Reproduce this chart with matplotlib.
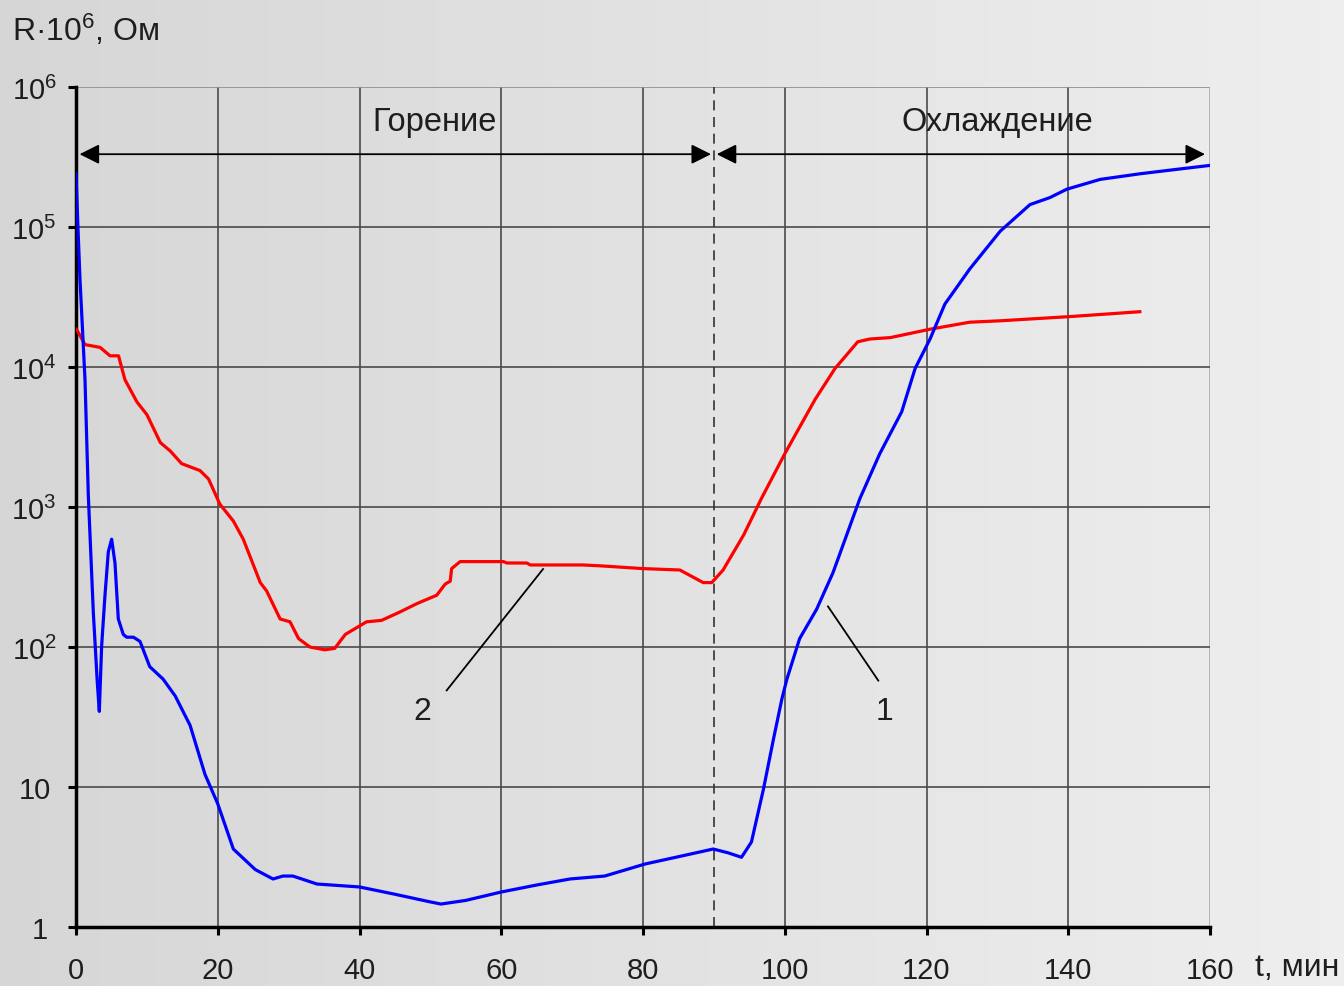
import numpy as np
import matplotlib
matplotlib.use('Agg')
import matplotlib.pyplot as plt
import matplotlib.transforms as mtransforms
from matplotlib.ticker import FixedLocator, NullLocator

plt.rcParams['font.family'] = ['Liberation Sans', 'DejaVu Sans']
plt.rcParams['mathtext.fontset'] = 'custom'
plt.rcParams['mathtext.rm'] = 'Liberation Sans'
plt.rcParams['mathtext.it'] = 'Liberation Sans:italic'

# curve 1 (blue): time, min / log10(R)
t1 = [0, 0.28, 0.56, 1.27, 1.74, 2.44, 3.0, 3.29, 3.62, 4.09, 4.56, 5.03, 5.5, 5.97,
      6.67, 7.15, 8.1, 9.03, 10.4, 12.3, 14.0, 16.1, 18.2, 20.0, 22.2, 25.3, 27.8,
      29.2, 30.6, 34.0, 40.0, 44.8, 50.0, 51.5, 55.0, 60.0, 65.0, 69.7, 74.6, 80.3,
      86.6, 89.9, 92.0, 93.9, 95.3, 97.0, 98.4, 99.6, 100.3, 102.1, 104.5, 106.8,
      110.6, 113.4, 116.5, 118.4, 120.5, 122.6, 126.1, 130.4, 134.6, 137.4, 139.8,
      144.5, 150.1, 155.0, 160.0]
lg1 = [5.38, 4.99, 4.63, 3.91, 3.08, 2.25, 1.75, 1.54, 2.01, 2.37, 2.68, 2.77, 2.6, 2.2,
       2.09, 2.07, 2.07, 2.04, 1.86, 1.77, 1.65, 1.44, 1.09, 0.88, 0.557, 0.41, 0.343,
       0.364, 0.364, 0.307, 0.286, 0.236, 0.179, 0.164, 0.19, 0.25, 0.30, 0.343, 0.364, 0.45,
       0.52, 0.557, 0.53, 0.498, 0.607, 0.986, 1.34, 1.63, 1.77, 2.06, 2.27, 2.53,
       3.06, 3.38, 3.68, 3.99, 4.2, 4.45, 4.7, 4.97, 5.16, 5.21, 5.27,
       5.34, 5.38, 5.41, 5.44]

# curve 2 (red)
t2 = [0, 0.18, 1.27, 3.4, 4.8, 6.0, 6.9, 8.6, 10.0, 11.9, 13.3, 14.9, 17.5, 18.7, 20.3,
      22.2, 23.6, 26.0, 26.9, 28.8, 30.2, 31.4, 33.0, 35.1, 36.5, 38.0, 41.0, 43.1, 45.7,
      48.1, 50.9, 52.1, 52.8, 53.0, 54.2, 60.3, 60.8, 63.6, 64.1, 71.5, 73.9, 80.0, 85.2,
      88.5, 89.7, 91.3, 94.2, 96.7, 100.0, 104.3, 107.1, 110.3, 112.0, 114.9, 120.5,
      126.1, 130.4, 140.2, 145.9, 150.1]
lg2 = [4.27, 4.26, 4.16, 4.14, 4.08, 4.08, 3.91, 3.75, 3.66, 3.46, 3.4, 3.31, 3.26, 3.2, 3.02,
       2.9, 2.77, 2.46, 2.4, 2.2, 2.18, 2.06, 2.0, 1.98, 1.99, 2.09, 2.18, 2.19, 2.25,
       2.31, 2.37, 2.45, 2.47, 2.56, 2.61, 2.61, 2.6, 2.6, 2.586, 2.586, 2.58, 2.56, 2.55,
       2.46, 2.46, 2.55, 2.80, 3.06, 3.38, 3.77, 3.99, 4.18, 4.2, 4.21, 4.27,
       4.32, 4.33, 4.36, 4.38, 4.395]

x_ticks = [0, 20, 40, 60, 80, 100, 120, 140, 160]
y_ticks = [1, 10, 1e2, 1e3, 1e4, 1e5, 1e6]
y_labels = ['1', '10', r'$\mathregular{10^2}$', r'$\mathregular{10^3}$',
            r'$\mathregular{10^4}$', r'$\mathregular{10^5}$', r'$\mathregular{10^6}$']

fig = plt.figure(figsize=(13.44, 9.87), dpi=100)

# brushed-metal like background
bg = fig.add_axes([0, 0, 1, 1], zorder=-10)
grad = np.linspace(0.84, 0.935, 256)[None, :]
bg.imshow(np.dstack([grad, grad, grad]), aspect='auto', extent=[0, 1, 0, 1])
bg.axis('off')

ax = fig.add_axes([76 / 1344, 1 - 928 / 987, (1210 - 76) / 1344, (928 - 88) / 987])
ax.patch.set_alpha(0)
ax.set_yscale('log')
ax.set_xlim(0, 160)
ax.set_ylim(1, 1e6)

ax.xaxis.set_major_locator(FixedLocator(x_ticks))
ax.yaxis.set_major_locator(FixedLocator(y_ticks))
ax.yaxis.set_minor_locator(NullLocator())
ax.set_yticklabels(y_labels)
ax.tick_params(axis='both', direction='out', length=6, width=2.2, labelsize=21,
               labelcolor='#1e1e1e')
ax.tick_params(axis='x', pad=15)
ax.tick_params(axis='y', pad=8)

# plain labels "1" and "10" sit a little further left
shifts = {'1': -9, '10': -6}
for lab in ax.get_yticklabels():
    dx = shifts.get(lab.get_text(), 0)
    if dx:
        lab.set_transform(lab.get_transform() +
                          mtransforms.ScaledTranslation(dx / 100, 0, fig.dpi_scale_trans))

for s in ['top', 'right']:
    ax.spines[s].set_visible(False)
for s in ['left', 'bottom']:
    ax.spines[s].set_linewidth(2.5)

ax.grid(True, color='#4a4a4a', lw=1.2)
ax.xaxis.get_gridlines()[-1].set_color('#a8a8a8')
ax.yaxis.get_gridlines()[-1].set_color('#8c8c8c')

ax.axvline(90, color='#333333', lw=1.2, ls=(0, (6, 4)))

ax.plot(t2, 10 ** np.array(lg2), color='#ff0000', lw=2.3, zorder=5,
        solid_joinstyle='round')
ax.plot(t1, 10 ** np.array(lg1), color='#0000ff', lw=2.3, zorder=6,
        solid_joinstyle='round')

# phase arrows
ya = 10 ** 5.52
arr = dict(arrowstyle='<|-|>,head_length=0.6,head_width=0.3', color='black', lw=1.3,
           mutation_scale=20, shrinkA=0, shrinkB=0)
ax.annotate('', xy=(0.5, ya), xytext=(89.6, ya), arrowprops=arr)
ax.annotate('', xy=(90.4, ya), xytext=(159.3, ya), arrowprops=arr)
ax.text(50.6, 10 ** 5.75, 'Горение', fontsize=23.5, ha='center', va='center', color='#1e1e1e')
ax.text(130.0, 10 ** 5.75, 'Охлаждение', fontsize=23.5, ha='center', va='center',
        color='#1e1e1e')

# curve labels
ax.plot([52.3, 65.9], [10 ** 1.69, 10 ** 2.557], color='black', lw=1.3)
ax.text(48.8, 10 ** 1.545, '2', fontsize=23, ha='center', va='center', color='#1e1e1e')
ax.plot([106.1, 113.2], [10 ** 2.29, 10 ** 1.76], color='black', lw=1.3)
ax.text(114.1, 10 ** 1.545, '1', fontsize=23, ha='center', va='center', color='#1e1e1e')

fig.text(12 / 1344, 1 - 30 / 987, r'R·10$\mathregular{^6}$, Ом', fontsize=23,
         ha='left', va='center', color='#1e1e1e')
fig.text(1255 / 1344, 1 - 968 / 987, 't, мин', fontsize=23, ha='left', va='center',
         color='#1e1e1e')

fig.savefig('out.png', dpi=100)
